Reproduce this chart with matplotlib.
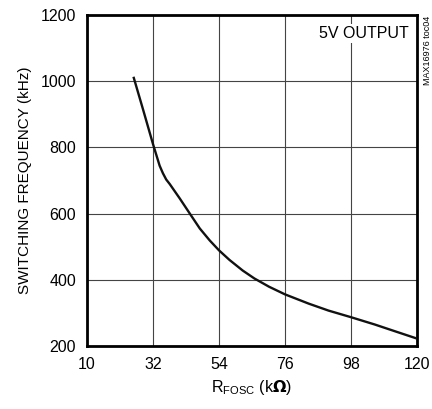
import matplotlib.pyplot as plt
from matplotlib import font_manager

names = {f.name for f in font_manager.fontManager.ttflist}
narrow = 'Liberation Sans Narrow' if 'Liberation Sans Narrow' in names else 'Liberation Sans'
plt.rcParams['font.family'] = [narrow, 'DejaVu Sans']
plt.rcParams['mathtext.fontset'] = 'custom'
plt.rcParams['mathtext.rm'] = narrow

# curve
r_fosc = [25.6, 28.7, 32.0, 34.2, 35.3, 36.4, 37.6, 40.9, 44.2, 47.6, 50.9, 54.0, 57.5, 61.9,
          65.8, 70.7, 76.0, 83.9, 90.5, 98.0, 105.9, 112.5, 119.8]
f_sw = [1010, 914, 810, 745, 722, 703, 689, 646, 601, 555, 519, 489, 460, 428,
        404, 379, 356, 328, 307, 287, 265, 245, 223]

xticks = [10, 32, 54, 76, 98, 120]
yticks = [200, 400, 600, 800, 1000, 1200]

fig = plt.figure(figsize=(4.32, 4.09), dpi=100)
ax = fig.add_axes([87/432, 1-346/409, 330/432, 331/409])

ax.plot(r_fosc, f_sw, color='#111111', lw=1.7, zorder=3, solid_joinstyle='round')

ax.set_xlim(10, 120)
ax.set_ylim(200, 1200)
ax.set_xticks(xticks)
ax.set_yticks(yticks)
ax.tick_params(length=0, labelsize=11.5, pad=8)
ax.grid(True, color='#444444', lw=0.8)
for s in ax.spines.values():
    s.set_linewidth(2.0)

ax.set_ylabel('SWITCHING FREQUENCY (kHz)', fontsize=11, labelpad=6)
ax.set_xlabel(r'R$_{\mathregular{FOSC}}$ (k$\mathbf{\Omega}$)', fontsize=11.5, labelpad=4)

ax.text(0.975, 0.945, '5V OUTPUT', transform=ax.transAxes, ha='right', va='center',
        fontsize=11.5, zorder=4,
        bbox=dict(facecolor='white', edgecolor='none', pad=1.5))
fig.text(427/432, 1-50/409, 'MAX16976 toc04', rotation=90, ha='center', va='center',
         fontsize=6.5)

fig.savefig('out.png', dpi=100)
